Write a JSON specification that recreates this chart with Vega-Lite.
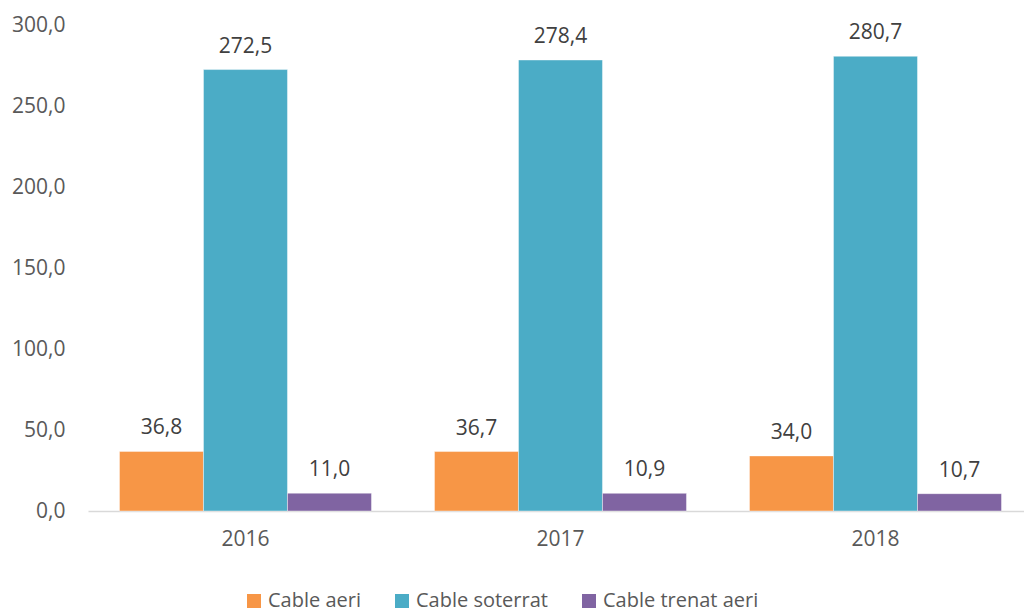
{
  "$schema": "https://vega.github.io/schema/vega-lite/v6.json",
  "width": 936,
  "height": 486,
  "autosize": {"type": "none"},
  "padding": {"left": 88, "top": 25, "right": 0, "bottom": 101},
  "background": "white",
  "config": {
    "locale": {"number": {"decimal": ",", "thousands": ".", "grouping": [3], "currency": ["", " €"]}},
    "view": {"stroke": null},
    "font": "Open Sans"
  },
  "data": {
    "values": [
      {"year": "2016", "serie": "Cable aeri", "value": 36.8},
      {"year": "2016", "serie": "Cable soterrat", "value": 272.5},
      {"year": "2016", "serie": "Cable trenat aeri", "value": 11.0},
      {"year": "2017", "serie": "Cable aeri", "value": 36.7},
      {"year": "2017", "serie": "Cable soterrat", "value": 278.4},
      {"year": "2017", "serie": "Cable trenat aeri", "value": 10.9},
      {"year": "2018", "serie": "Cable aeri", "value": 34.0},
      {"year": "2018", "serie": "Cable soterrat", "value": 280.7},
      {"year": "2018", "serie": "Cable trenat aeri", "value": 10.7}
    ]
  },
  "encoding": {
    "x": {
      "field": "year", "type": "nominal",
      "scale": {"paddingInner": 0.2, "paddingOuter": 0.0857, "align": 0.583},
      "axis": {
        "title": null, "labelAngle": 0, "ticks": false,
        "domainColor": "#d9d9d9", "domainWidth": 1.5,
        "labelFontSize": 21, "labelColor": "#595959", "labelPadding": 17,
        "labelFont": "Open Sans"
      }
    },
    "xOffset": {"field": "serie", "type": "nominal", "scale": {"paddingInner": 0, "paddingOuter": 0}},
    "y": {
      "field": "value", "type": "quantitative",
      "scale": {"domain": [0, 300], "nice": false},
      "axis": {
        "title": null, "grid": false, "domain": false, "ticks": false,
        "values": [0, 50, 100, 150, 200, 250, 300], "format": ".1f",
        "labelFontSize": 21, "labelColor": "#595959", "labelPadding": 23,
        "labelFont": "Open Sans"
      }
    }
  },
  "layer": [
    {
      "mark": {"type": "bar", "stroke": "white", "strokeWidth": 0.6, "strokeOpacity": 0.7},
      "encoding": {
        "color": {
          "field": "serie", "type": "nominal",
          "scale": {"domain": ["Cable aeri", "Cable soterrat", "Cable trenat aeri"], "range": ["#F79646", "#4BACC6", "#8064A2"]},
          "legend": {
            "title": null, "orient": "none", "direction": "horizontal",
            "legendX": 156, "legendY": 566,
            "symbolType": "square", "symbolSize": 196, "symbolStrokeWidth": 0, "symbolOpacity": 1,
            "labelFontSize": 20, "labelColor": "#595959", "labelFont": "Open Sans",
            "labelOffset": 4, "columnPadding": 31, "padding": 0, "labelLimit": 400
          }
        }
      }
    },
    {
      "mark": {"type": "text", "baseline": "alphabetic", "dy": -17, "fontSize": 21, "color": "#404040", "font": "Open Sans"},
      "encoding": {
        "text": {"field": "value", "type": "quantitative", "format": ".1f"}
      }
    }
  ]
}
